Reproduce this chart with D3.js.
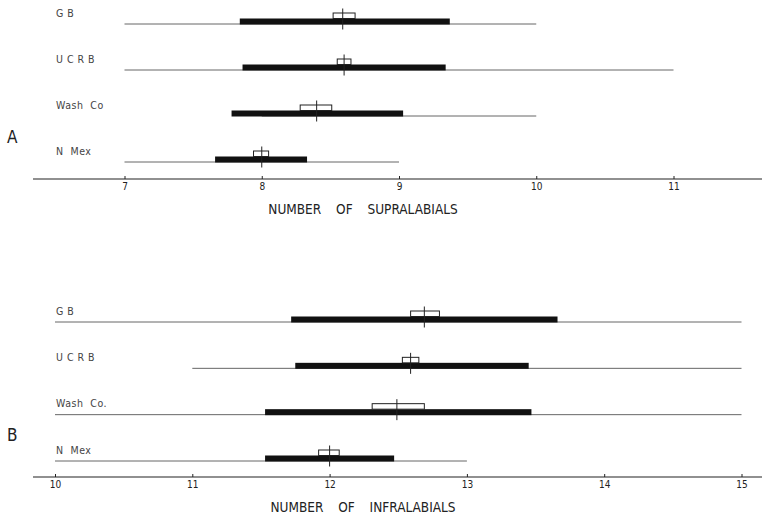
<!DOCTYPE html>
<html lang="en">
<head>
    <meta charset="UTF-8">
    <script src="https://d3js.org/d3.v7.min.js"></script>
    <title>Labials</title>
    <style>
        body { margin: 0; background: #fff; }
        text { font-family: "Liberation Sans Narrow", "DejaVu Sans Condensed", "Liberation Sans", sans-serif; }
    </style>
</head>
<body>
    <script>
        // supralabials (panel A)
        var supraGroups = ["G B", "U C R B", "Wash  Co", "N  Mex"];
        var supraMin  = [7, 7, 8, 7];
        var supraMax  = [10, 11, 10, 9];
        var supraSdLo = [7.84, 7.86, 7.78, 7.66];
        var supraSdHi = [9.37, 9.34, 9.03, 8.33];
        var supraMean = [8.59, 8.60, 8.40, 8.00];
        var supraSeLo = [8.52, 8.55, 8.28, 7.94];
        var supraSeHi = [8.68, 8.65, 8.51, 8.05];
        var supraTicks = [7, 8, 9, 10, 11];

        // infralabials (panel B)
        var infraGroups = ["G B", "U C R B", "Wash  Co.", "N  Mex"];
        var infraMin  = [10, 11, 10, 10];
        var infraMax  = [15, 15, 15, 13];
        var infraSdLo = [11.72, 11.75, 11.53, 11.53];
        var infraSdHi = [13.66, 13.45, 13.47, 12.47];
        var infraMean = [12.69, 12.59, 12.49, 12.00];
        var infraSeLo = [12.59, 12.53, 12.31, 11.92];
        var infraSeHi = [12.80, 12.65, 12.69, 12.07];
        var infraTicks = [10, 11, 12, 13, 14, 15];

        var svg = d3.select("body").append("svg")
            .attr("width", 762)
            .attr("height", 519);

        function panel(cfg) {
            var x = d3.scaleLinear().domain(cfg.domain).range(cfg.xrange);
            var y = d3.scalePoint().domain(cfg.groups).range(cfg.yrange);
            var rows = cfg.groups.map(function(g, i) {
                return { name: g, min: cfg.min[i], max: cfg.max[i], sdLo: cfg.sdLo[i], sdHi: cfg.sdHi[i],
                         mean: cfg.mean[i], seLo: cfg.seLo[i], seHi: cfg.seHi[i] };
            });
            var g = svg.append("g");

            // axis line, runs past the data range on both sides
            g.append("line")
                .attr("x1", 33).attr("x2", 762)
                .attr("y1", cfg.axisY).attr("y2", cfg.axisY)
                .attr("stroke", "#222").attr("stroke-width", 1.2);

            var axis = g.append("g")
                .attr("transform", "translate(0," + cfg.axisY + ")")
                .call(d3.axisBottom(x).tickValues(cfg.ticks).tickFormat(d3.format("d"))
                    .tickSizeInner(-3).tickSizeOuter(0).tickPadding(4));
            axis.select(".domain").remove();
            axis.selectAll("line").attr("stroke", "#222");
            axis.selectAll("text").attr("font-size", 10).attr("fill", "#222");

            // range lines
            g.selectAll(".range").data(rows).enter().append("line")
                .attr("x1", function(d) { return x(d.min); })
                .attr("x2", function(d) { return x(d.max); })
                .attr("y1", function(d) { return y(d.name); })
                .attr("y2", function(d) { return y(d.name); })
                .attr("stroke", "#666").attr("stroke-width", 1);

            // sd bars
            g.selectAll(".sd").data(rows).enter().append("rect")
                .attr("x", function(d) { return x(d.sdLo); })
                .attr("width", function(d) { return x(d.sdHi) - x(d.sdLo); })
                .attr("y", function(d) { return y(d.name) - 5.5; })
                .attr("height", 6)
                .attr("fill", "#111");

            // se boxes
            g.selectAll(".se").data(rows).enter().append("rect")
                .attr("x", function(d) { return x(d.seLo); })
                .attr("width", function(d) { return x(d.seHi) - x(d.seLo); })
                .attr("y", function(d) { return y(d.name) - 11; })
                .attr("height", 5.5)
                .attr("fill", "#fff").attr("stroke", "#222").attr("stroke-width", 1);

            // mean marks
            g.selectAll(".mean").data(rows).enter().append("line")
                .attr("x1", function(d) { return x(d.mean); })
                .attr("x2", function(d) { return x(d.mean); })
                .attr("y1", function(d) { return y(d.name) - 15.5; })
                .attr("y2", function(d) { return y(d.name) + 5.5; })
                .attr("stroke", "#222").attr("stroke-width", 1);

            // group labels
            g.selectAll(".lab").data(rows).enter().append("text")
                .attr("x", 56)
                .attr("y", function(d) { return y(d.name) - 7.5; })
                .attr("font-size", 10.5)
                .attr("fill", "#444")
                .style("white-space", "pre")
                .style("letter-spacing", "0.5px")
                .text(function(d) { return d.name; });

            g.append("text")
                .attr("x", 363).attr("y", cfg.axisY + 35)
                .attr("text-anchor", "middle")
                .attr("font-size", 13.5)
                .attr("fill", "#222")
                .style("word-spacing", "11px")
                .text(cfg.title);

            g.append("text")
                .attr("x", 7).attr("y", cfg.letterY)
                .attr("font-size", 17)
                .attr("fill", "#222")
                .text(cfg.letter);
        }

        panel({
            groups: supraGroups, min: supraMin, max: supraMax, sdLo: supraSdLo, sdHi: supraSdHi,
            mean: supraMean, seLo: supraSeLo, seHi: supraSeHi, ticks: supraTicks,
            domain: [7, 11], xrange: [124.5, 673.5], yrange: [24, 162], axisY: 179,
            title: "NUMBER OF SUPRALABIALS", letter: "A", letterY: 143
        });

        panel({
            groups: infraGroups, min: infraMin, max: infraMax, sdLo: infraSdLo, sdHi: infraSdHi,
            mean: infraMean, seLo: infraSeLo, seHi: infraSeHi, ticks: infraTicks,
            domain: [10, 15], xrange: [55, 741.5], yrange: [322, 461], axisY: 477,
            title: "NUMBER OF INFRALABIALS", letter: "B", letterY: 441
        });
    </script>
</body>
</html>
